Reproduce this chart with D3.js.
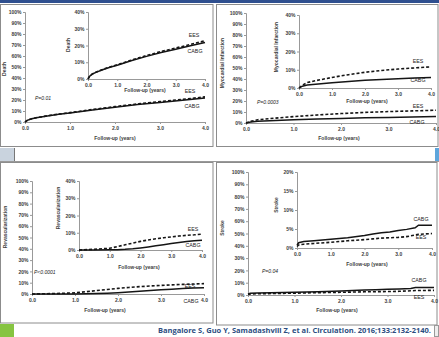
<!DOCTYPE html>
<html><head><meta charset="utf-8">
<script src="https://cdn.jsdelivr.net/npm/d3@7"></script>
<style>body{margin:0;background:#fff}svg{display:block}</style>
</head><body>
<script>
// ---------- data ----------
const xTicks = [0, 1, 2, 3, 4];
const mainYTicks = [0,10,20,30,40,50,60,70,80,90,100];
const insetYTicks = [0,10,20,30,40];
const strokeInsetTicks = [0,5,10,15,20];

const deathT    = [0,0.05,0.15,0.25,0.5,0.75,1,1.5,2,2.5,3,3.5,4];
const deathCABG = [0,1.5,3.0,3.8,5.5,7.0,8.2,11.0,13.5,15.8,17.8,19.8,21.8];
const deathEES  = [0,1.5,3.0,3.9,5.7,7.2,8.5,11.4,14.0,16.4,18.5,20.6,22.8];

const miT    = [0,0.1,0.25,0.5,1,1.5,2,2.5,3,3.5,4];
const miCABG = [0,1.0,1.6,2.1,2.9,3.6,4.2,4.7,5.1,5.5,5.8];
const miEES  = [0,1.5,3.0,4.0,5.8,7.3,8.6,9.6,10.4,11.0,11.6];

const revT    = [0,0.5,1,1.25,1.5,1.75,2,2.25,2.5,2.75,3,3.25,3.5,3.75,4];
const revCABG = [0,0,0.1,0.2,0.4,0.7,1.2,1.8,2.5,3.1,3.7,4.3,4.9,5.3,5.6];
const revEES  = [0,0.4,1.0,2.0,3.0,4.0,5.0,5.8,6.5,7.1,7.6,8.1,8.5,8.8,9.2];

const strokeT    = [0,0.05,0.2,0.5,1,1.5,2,2.25,2.5,2.75,3,3.25,3.5,3.6,4];
const strokeCABG = [0.8,1.4,1.7,1.9,2.3,2.7,3.3,3.7,4.0,4.2,4.6,4.9,5.3,6.0,6.0];
const strokeEES  = [0.4,0.8,1.0,1.2,1.5,1.9,2.2,2.4,2.6,2.7,2.8,3.0,3.4,3.6,3.8];

const citation = "Bangalore S, Guo Y, Samadashvili Z,  et al. Circulation. 2016;133:2132-2140.";

// ---------- layout ----------
const W = 439, H = 337;
const svg = d3.select("body").append("svg").attr("width", W).attr("height", H);
const FONT = "'Liberation Sans', Arial, sans-serif";
const TXT = "#404040";

// frame
svg.append("rect").attr("x",0).attr("y",0).attr("width",W).attr("height",3).attr("fill","#2f4f8f");
const boxes = [[0.5,4.5,212.5,142],[216.5,4.5,221.5,142],[0.5,162.5,212.5,160.5],[216.5,162.5,220.5,162.5]];
boxes.forEach(b => svg.append("rect").attr("x",b[0]).attr("y",b[1]).attr("width",b[2]).attr("height",b[3])
  .attr("fill","#fff").attr("stroke","#8c8c8c").attr("stroke-width",1));
// strip between rows
svg.append("rect").attr("x",0).attr("y",148).attr("width",14).attr("height",13).attr("fill","#c9d3de");
svg.append("line").attr("x1",14.5).attr("x2",14.5).attr("y1",148).attr("y2",161).attr("stroke","#777");
svg.append("line").attr("x1",0).attr("x2",W).attr("y1",161.5).attr("y2",161.5).attr("stroke","#999");
svg.append("rect").attr("x",435).attr("y",148).attr("width",4).attr("height",13).attr("fill","#5ea6dc");
// bottom strip
svg.append("rect").attr("x",0).attr("y",324).attr("width",14).attr("height",13).attr("fill","#86c441");
svg.append("rect").attr("x",434.5).attr("y",325.5).attr("width",4).attr("height",11).attr("fill","#eee").attr("stroke","#999");
svg.append("text").attr("x",431).attr("y",331).attr("text-anchor","end").attr("dominant-baseline","middle")
  .attr("font-family","'Open Sans', sans-serif").attr("font-weight","bold").attr("font-size",7)
  .attr("fill","#2c4d7f").attr("textLength",273).attr("lengthAdjust","spacingAndGlyphs").text(citation);

function chart(o) {
  const g = svg.append("g");
  const x = d3.scaleLinear().domain([0,4]).range([o.x0,o.x1]);
  const y = d3.scaleLinear().domain([0,o.ymax]).range([o.yb,o.yt]);
  const ya = g.append("g").attr("transform",`translate(${o.x0},0)`)
    .call(d3.axisLeft(y).tickValues(o.yticks).tickFormat(d=>d+"%").tickSize(2).tickPadding(1.5));
  const xa = g.append("g").attr("transform",`translate(0,${o.yb})`)
    .call(d3.axisBottom(x).tickValues(xTicks).tickFormat(d3.format(".1f")).tickSize(2).tickPadding(2));
  [ya,xa].forEach(a => {
    a.select(".domain").attr("stroke","#999");
    a.selectAll(".tick line").attr("stroke","#999");
    a.selectAll("text").attr("font-size",o.fs).attr("font-family",FONT).attr("fill",TXT).attr("font-weight","bold");
  });
  g.append("text").attr("x",o.xtx).attr("y",o.xty).attr("text-anchor","middle").attr("dominant-baseline","middle")
    .attr("font-size",o.fs).attr("font-family",FONT).attr("fill",TXT).attr("font-weight","bold").text("Follow-up (years)");
  g.append("text").attr("transform",`translate(${o.ytx},${o.yty}) rotate(-90)`).attr("text-anchor","middle")
    .attr("dominant-baseline","middle").attr("font-size",o.fs).attr("font-family",FONT).attr("fill",TXT)
    .attr("font-weight","bold").text(o.title);
  const line = d3.line().x((d,i)=>x(o.t[i])).y(d=>y(d));
  g.append("path").datum(o.cabg).attr("d",line).attr("fill","none").attr("stroke","#151515").attr("stroke-width",1.5);
  g.append("path").datum(o.ees).attr("d",line).attr("fill","none").attr("stroke","#151515").attr("stroke-width",1.6)
    .attr("stroke-dasharray","3,2");
  o.labels.forEach(l => g.append("text").attr("x",l[1]).attr("y",l[2]).attr("text-anchor","middle")
    .attr("dominant-baseline","middle").attr("font-size",o.fs+0.3).attr("font-family",FONT).attr("fill","#222").text(l[0]));
  if (o.p) g.append("text").attr("x",o.p[1]).attr("y",o.p[2]).attr("dominant-baseline","middle")
    .attr("font-size",o.fs).attr("font-family",FONT).attr("font-style","italic")
    .attr("fill","#222").text(o.p[0]);
}

const fs = 5;
// Death
chart({x0:25,x1:205,yt:12,yb:122,ymax:100,yticks:mainYTicks,fs,xtx:115,xty:139,ytx:5,yty:69,title:"Death",
  t:deathT,cabg:deathCABG,ees:deathEES,labels:[["EES",190,92],["CABG",192,107]],p:["P=0.01",35,99]});
chart({x0:88,x1:205,yt:12,yb:79,ymax:40,yticks:insetYTicks,fs,xtx:145,xty:91,ytx:69,yty:45,title:"Death",
  t:deathT,cabg:deathCABG,ees:deathEES,labels:[["EES",194,36],["CABG",195,52]]});
// MI
chart({x0:246,x1:436,yt:13,yb:123,ymax:100,yticks:mainYTicks,fs,xtx:339,xty:139,ytx:223,yty:63,title:"Myocardial Infarction",
  t:miT,cabg:miCABG,ees:miEES,labels:[["EES",418,107],["CABG",417,123]],p:["P=0.0003",257,103]});
chart({x0:299,x1:431,yt:15,yb:88,ymax:40,yticks:insetYTicks,fs,xtx:367,xty:102,ytx:277,yty:47,title:"Myocardial Infarction",
  t:miT,cabg:miCABG,ees:miEES,labels:[["EES",418,62],["CABG",418,81]]});
// Revascularization
chart({x0:32,x1:204,yt:181,yb:294,ymax:100,yticks:mainYTicks,fs,xtx:105,xty:311,ytx:6,yty:227,title:"Revascularization",
  t:revT,cabg:revCABG,ees:revEES,labels:[["EES",190,287],["CABG",191,302]],p:["P<0.0001",34,273]});
chart({x0:79,x1:202,yt:181,yb:250,ymax:40,yticks:insetYTicks,fs,xtx:139,xty:268,ytx:59,yty:208,title:"Revascularization",
  t:revT,cabg:revCABG,ees:revEES,labels:[["EES",193,230],["CABG",193,246]]});
// Stroke
chart({x0:248,x1:434,yt:172,yb:295,ymax:100,yticks:mainYTicks,fs,xtx:337,xty:311,ytx:223,yty:228,title:"Stroke",
  t:strokeT,cabg:strokeCABG,ees:strokeEES,labels:[["CABG",419,281],["EES",419,298]],p:["P=0.04",262,272]});
chart({x0:297,x1:432,yt:172,yb:248,ymax:20,yticks:strokeInsetTicks,fs,xtx:367,xty:265,ytx:277,yty:205,title:"Stroke",
  t:strokeT,cabg:strokeCABG,ees:strokeEES,labels:[["CABG",421,220],["EES",421,238]]});
</script>
</body></html>
